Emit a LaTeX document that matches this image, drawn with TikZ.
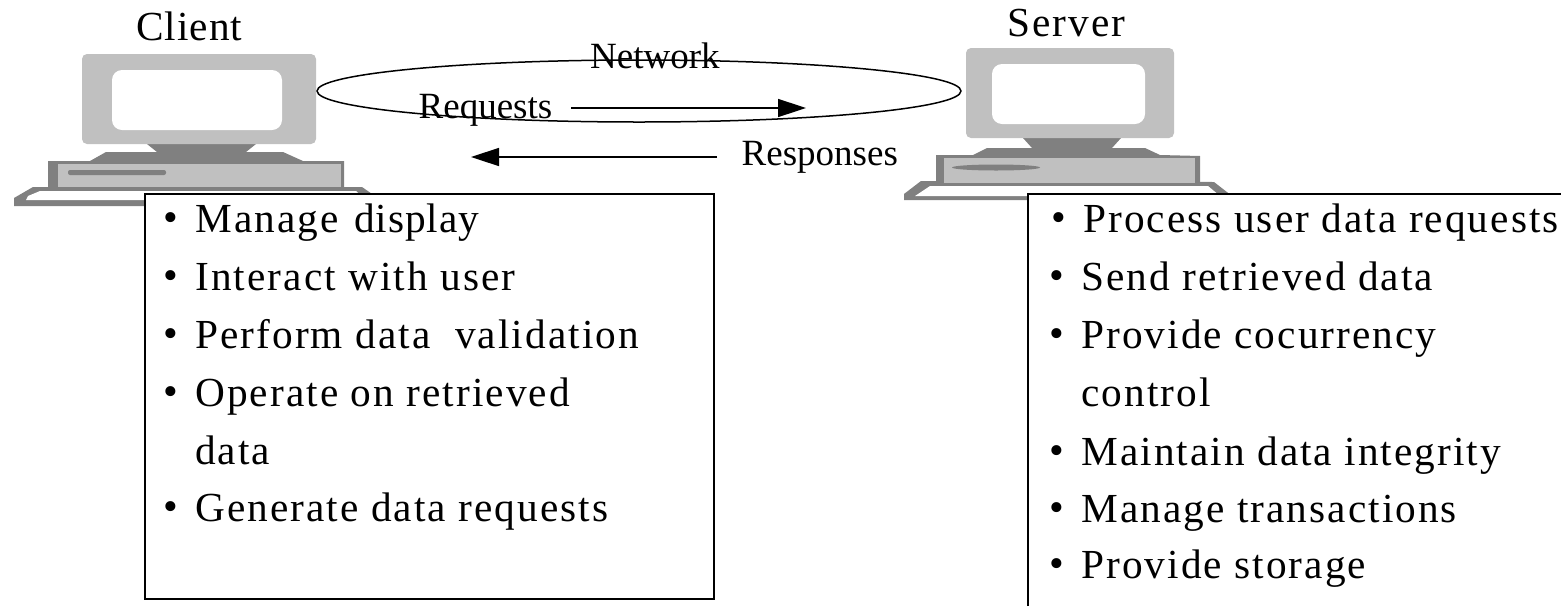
\documentclass[tikz,border=0pt]{standalone}
\usepackage{fontspec}
\setmainfont{Liberation Serif}
\newfontfamily\spaced[LetterSpace=5]{Liberation Serif}
\newfontfamily\lessspaced[LetterSpace=2.5]{Liberation Serif}
\usetikzlibrary{shapes.geometric,arrows.meta}
\definecolor{pclight}{HTML}{C0C0C0}
\definecolor{pcdark}{HTML}{808080}
\newcommand{\bigtext}{\spaced\fontsize{41.3}{48}\selectfont}
\newcommand{\tighttext}{\lessspaced\fontsize{41.3}{48}\selectfont}
\newcommand{\listitem}[1]{\makebox[31.5pt][l]{\fontsize{42}{42}\selectfont\raisebox{1pt}{•}}#1}
\tikzset{
  x=1pt,y=-1pt,
  heading/.style={anchor=base west,inner sep=0pt,font=\bigtext},
  small/.style={anchor=base west,inner sep=0pt,font=\fontsize{37}{44}\selectfont},
  item/.style={anchor=base west,inner sep=0pt,font=\bigtext},
  frameline/.style={draw=black,line width=1.5pt},
  flow/.style={draw=black,line width=1.5pt,-{Triangle[length=28pt,width=18pt]}},
  light/.style={fill=pclight,draw=none},
  dark/.style={fill=pcdark,draw=none},
  screen/.style={fill=white,draw=none,rounded corners=10pt}
}
\begin{document}
\begin{tikzpicture}
\useasboundingbox (0,0) rectangle (1561,606);
\fill[white] (0,0) rectangle (1561,606);
% client computer
\fill[dark] (14,206) -- (14,198) -- (33,187) -- (362,187) -- (375,196) -- (375,206) -- cycle;
\fill[white] (26,200) -- (28,196) -- (40,191) -- (356,191) -- (366,200) -- cycle;
\fill[dark] (147,144) -- (256,144) -- (246,152) -- (283,152) -- (303,161) -- (344,161) -- (344,190) -- (48,190) -- (48,161) -- (90,161) -- (106,152) -- (157,152) -- cycle;
\fill[light] (58,164) rectangle (341,187);
\fill[dark,rounded corners=2pt] (68,170) rectangle (166,175);
\fill[light,rounded corners=5pt] (82,54) rectangle (316,144);
\fill[screen] (112,70) rectangle (282,130);
% server computer
\fill[dark] (904,200) -- (904,194) -- (921,181) -- (1214,182) -- (1232,196) -- (1232,200) -- cycle;
\fill[white] (915,196) -- (930,186) -- (1208,186) -- (1220,196) -- cycle;
\fill[dark] (1023,138) -- (1121,138) -- (1112,148) -- (1145,148) -- (1160,155) -- (1200,156) -- (1200,185) -- (936,185) -- (936,155) -- (973,155) -- (987,148) -- (1032,148) -- cycle;
\fill[light] (944,158) rectangle (1195,183);
\fill[pcdark] (996,167.5) ellipse [x radius=44,y radius=3];
\fill[light,rounded corners=5pt] (966,48) rectangle (1174,138);
\fill[screen] (992,64) rectangle (1145,124);
% boxes
\node[frameline,fill=white,anchor=north west,inner sep=0pt,outer sep=0pt,minimum width=569pt,minimum height=405pt] (clientbox) at (145,194) {};
\coordinate (sbl) at (1028,606);
\coordinate (stl) at (1028,194);
\coordinate (str) at (1561,194);
\fill[white] (sbl) rectangle (str);
\draw[frameline] (sbl) -- (stl) -- (str);
% network
\node[ellipse,draw=black,line width=1.5pt,minimum width=644pt,minimum height=62pt,inner sep=0pt] (network) at (639,91) {};
% labels
\node[heading,font=\tighttext] (client) at (136,40) {Client};
\node[heading] (server) at (1007,36) {Server};
\node[small] (netlabel) at (590,68) {Network};
\node[small] (reqlabel) at (418.5,118) {Requests};
\node[small] (resplabel) at (741.5,165) {Responses};
% flows
\coordinate (reqa) at (571,108);
\coordinate (reqb) at (806,108);
\coordinate (respa) at (717,157);
\coordinate (respb) at (471,157);
\draw[flow] (reqa) -- (reqb);
\draw[flow] (respa) -- (respb);
% client list
\node[item] (c1) at (163.6,232.5) {\listitem{Manage\hspace{3pt} {\tighttext display}}};
\node[item] (c2) at (163.6,290.5) {\listitem{Interact with user}};
\node[item] (c3) at (163.6,348) {\listitem{Perform data~~validation}};
\node[item] (c4) at (163.6,406.5) {\listitem{Operate on retrieved}};
\node[item] (c5) at (195,464) {data};
\node[item] (c6) at (163.6,521.5) {\listitem{Generate data requests}};
% server list
\node[item] (s1) at (1051.6,232.5) {\listitem{Process user data requests}};
\node[item] (s2) at (1049.6,290.5) {\listitem{Send retrieved data}};
\node[item] (s3) at (1049.6,348) {\listitem{Provide cocurrency}};
\node[item] (s4) at (1081,406.5) {control};
\node[item] (s5) at (1049.6,465) {\listitem{Maintain data integrity}};
\node[item] (s6) at (1049.6,522) {\listitem{Manage transactions}};
\node[item] (s7) at (1049.6,578) {\listitem{Provide storage}};
\end{tikzpicture}
\end{document}
